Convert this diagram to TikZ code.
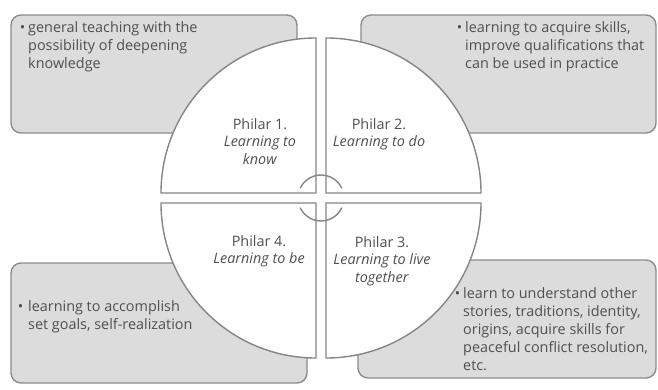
\documentclass[tikz,border=0pt]{standalone}
\usepackage{fontspec}
\setmainfont{Open Sans}
\begin{document}
\begin{tikzpicture}[x=1pt,y=1pt,
  infobox/.style={draw=boxline,fill=boxfill,line width=1.4pt,rounded corners=10pt},
  quad/.style={draw=quadline,fill=white,line width=1.4pt},
  hubarc/.style={draw=quadline,line width=1.4pt},
  infotext/.style={anchor=base west,inner sep=0pt,align=left,text=txtgray,font=\fontsize{14.4}{18}\selectfont},
  pillartext/.style={anchor=base,inner sep=0pt,align=center,text=txtgray,font=\fontsize{14.4}{17.5}\selectfont}]
\definecolor{boxfill}{HTML}{DCDCDC}
\definecolor{boxline}{HTML}{8C8C8C}
\definecolor{quadline}{HTML}{858585}
\definecolor{txtgray}{HTML}{505050}
\useasboundingbox (0,0) rectangle (658,389);
% info boxes
\draw[infobox] (11,256) rectangle (297,374);
\draw[infobox] (361,256) rectangle (656,374);
\draw[infobox] (11,6) rectangle (307,126);
\draw[infobox] (358,11) rectangle (656,129);
% quadrants
\draw[quad] (316,196) -- ++(-155,0) arc[start angle=180,end angle=90,radius=155] -- cycle;
\draw[quad] (326,196) -- ++(0,155) arc[start angle=90,end angle=0,radius=155] -- cycle;
\draw[quad] (316,186) -- ++(0,-155) arc[start angle=270,end angle=180,radius=155] -- cycle;
\draw[quad] (326,186) -- ++(155,0) arc[start angle=0,end angle=-90,radius=155] -- cycle;
% hub arcs
\coordinate (hub) at (321,191);
\draw[hubarc] (hub) ++(155:23) arc[start angle=155,end angle=25,radius=23];
\draw[hubarc] (hub) ++(205:23) arc[start angle=205,end angle=335,radius=23];
% info texts (anchor = baseline of last line)
\node[infotext] (t1) at (28,320) {\llap{•\hspace{3pt}}general teaching with the\\possibility of deepening\\knowledge};
\node[infotext] (t2) at (465,320) {\llap{•\hspace{3pt}}learning to acquire skills,\\improve qualifications that\\can be used in practice};
\node[infotext] (t4) at (28,60) {\llap{•\hspace{5pt}}learning to accomplish\\set goals, self-realization};
\node[infotext] (t3) at (463,19) {\llap{•\hspace{3pt}}learn to understand other\\stories, traditions, identity,\\origins, acquire skills for\\peaceful conflict resolution,\\etc.};
% pillar texts (anchor = baseline of last line)
\node[pillartext] (p1) at (260,225) {Philar 1.\\\textit{Learning to}\\\textit{know}};
\node[pillartext] (p2) at (379,242.5) {Philar 2.\\\textit{Learning to do}};
\node[pillartext] (p4) at (259,125.5) {Philar 4.\\\textit{Learning to be}};
\node[pillartext] (p3) at (382,107) {Philar 3.\\\textit{Learning to live}\\\textit{together}};
\end{tikzpicture}
\end{document}
